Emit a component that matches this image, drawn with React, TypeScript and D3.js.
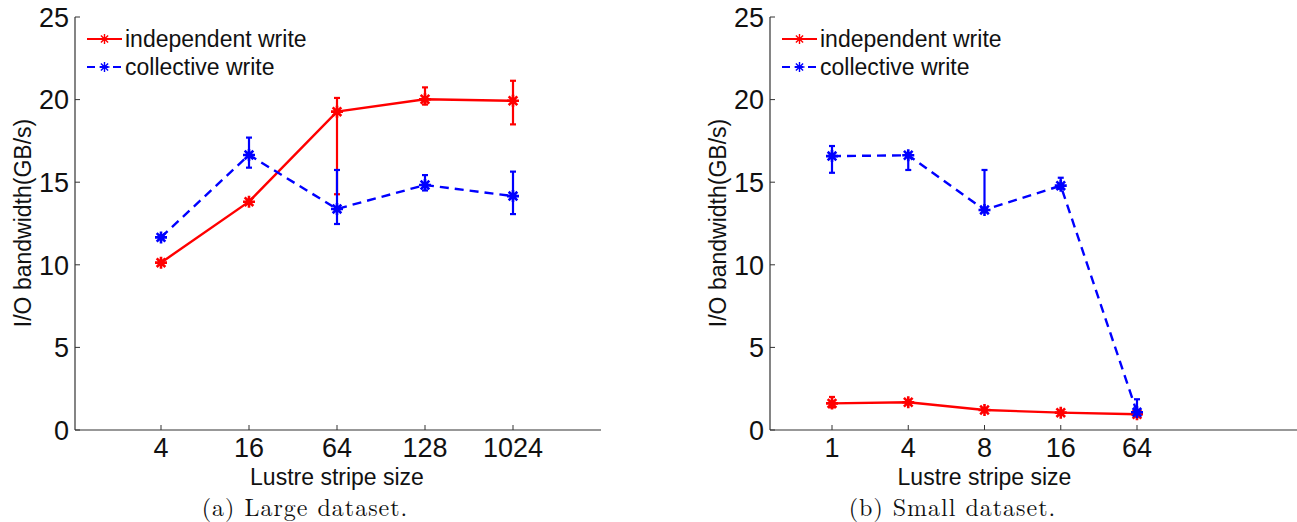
import React from 'react';
import * as d3 from 'd3';

const largeCats = ['4', '16', '64', '128', '1024'];
const smallCats = ['1', '4', '8', '16', '64'];
const yTicks = [0, 5, 10, 15, 20, 25];

// large dataset (a)
const largeIndep = [10.13, 13.82, 19.27, 20.02, 19.93];
const largeIndepHi = [10.2, 13.9, 20.1, 20.74, 21.14];
const largeIndepLo = [10.1, 13.75, 14.27, 19.7, 18.5];
const largeColl = [11.66, 16.65, 13.38, 14.83, 14.16];
const largeCollHi = [11.75, 17.7, 15.74, 15.43, 15.64];
const largeCollLo = [11.6, 15.88, 12.47, 14.5, 13.07];

// small dataset (b)
const smallIndep = [1.61, 1.68, 1.21, 1.05, 0.95];
const smallIndepHi = [2.0, 1.75, 1.3, 1.1, 1.0];
const smallIndepLo = [1.37, 1.6, 1.15, 1.0, 0.9];
const smallColl = [16.58, 16.63, 13.32, 14.79, 1.07];
const smallCollHi = [17.19, 16.7, 15.74, 15.27, 1.86];
const smallCollLo = [15.57, 15.74, 13.3, 14.6, 1.0];

const RED = '#ff0000';
const BLUE = '#0000ff';
const SANS = '"Liberation Sans", Arial, Helvetica, sans-serif';
const SERIF = '"Latin Modern Roman", "Liberation Serif", "Times New Roman", serif';

function star(r: number) {
  const d = r * 0.72;
  return `M${-r},0H${r}M0,${-r}V${r}M${-d},${-d}L${d},${d}M${-d},${d}L${d},${-d}`;
}

type Series = { vals: number[]; hi: number[]; lo: number[]; color: string; dash?: string };

function Panel(props: {
  cats: string[];
  series: Series[];
  axisLeft: number;
  axisRight: number;
  first: number;
  last: number;
  caption: string;
}) {
  const { cats, series, axisLeft, axisRight, first, last, caption } = props;
  const y = d3.scaleLinear().domain([0, 25]).range([430, 17]);
  const x = d3.scaleLinear().domain([0, cats.length - 1]).range([first, last]);
  const line = d3
    .line<number>()
    .x((d, i) => x(i))
    .y(d => y(d));
  const mid = x(2);

  return (
    <g>
      {/* axes */}
      <line x1={axisLeft} x2={axisLeft} y1={y(25)} y2={y(0)} stroke="#333" strokeWidth={1.2} />
      <line x1={axisLeft} x2={axisRight} y1={y(0)} y2={y(0)} stroke="#333" strokeWidth={1.2} />
      {yTicks.map(t => (
        <g key={t}>
          <line x1={axisLeft} x2={axisLeft + 5} y1={y(t)} y2={y(t)} stroke="#333" strokeWidth={1} />
          <text
            x={axisLeft - 6}
            y={y(t)}
            dy="0.36em"
            textAnchor="end"
            fontFamily={SANS}
            fontSize={27}
            fill="#111"
          >
            {t}
          </text>
        </g>
      ))}
      {cats.map((c, i) => (
        <g key={c}>
          <line x1={x(i)} x2={x(i)} y1={y(0)} y2={y(0) - 5} stroke="#333" strokeWidth={1} />
          <text x={x(i)} y={457} textAnchor="middle" fontFamily={SANS} fontSize={27} fill="#111">
            {c}
          </text>
        </g>
      ))}
      <text
        transform={`translate(${axisLeft - 44},${223}) rotate(-90)`}
        textAnchor="middle"
        fontFamily={SANS}
        fontSize={23}
        fill="#111"
      >
        I/O bandwidth(GB/s)
      </text>
      <text x={mid} y={485} textAnchor="middle" fontFamily={SANS} fontSize={23} fill="#111">
        Lustre stripe size
      </text>
      <text
        x={mid - 32}
        y={516}
        textAnchor="middle"
        fontFamily={SERIF}
        fontSize={24}
        letterSpacing={1}
        fill="#111"
      >
        {caption}
      </text>

      {/* series */}
      {series.map((s, k) => (
        <g key={k}>
          <path
            d={line(s.vals) || ''}
            fill="none"
            stroke={s.color}
            strokeWidth={2.4}
            strokeDasharray={s.dash}
          />
          {s.vals.map((v, i) => (
            <g key={i} stroke={s.color} strokeWidth={2.2} fill="none">
              <line x1={x(i)} x2={x(i)} y1={y(s.hi[i])} y2={y(s.lo[i])} />
              <line x1={x(i) - 3} x2={x(i) + 3} y1={y(s.hi[i])} y2={y(s.hi[i])} />
              <line x1={x(i) - 3} x2={x(i) + 3} y1={y(s.lo[i])} y2={y(s.lo[i])} />
              <path d={star(6)} transform={`translate(${x(i)},${y(v)})`} strokeWidth={2.6} />
            </g>
          ))}
        </g>
      ))}

      {/* legend */}
      {series.map((s, k) => {
        const ly = 39 + k * 28;
        const lx = axisLeft + 12;
        return (
          <g key={'lg' + k}>
            <line
              x1={lx}
              x2={lx + 35}
              y1={ly}
              y2={ly}
              stroke={s.color}
              strokeWidth={2.2}
              strokeDasharray={s.dash ? '8,5' : undefined}
            />
            <path
              d={star(5)}
              transform={`translate(${lx + 17.5},${ly})`}
              stroke={s.color}
              strokeWidth={1.4}
              fill="none"
            />
            <text x={lx + 38} y={ly} dy="0.35em" fontFamily={SANS} fontSize={23} fill="#111">
              {k === 0 ? 'independent write' : 'collective write'}
            </text>
          </g>
        );
      })}
    </g>
  );
}

export default function App() {
  const dash = '9,6';
  return (
    <div style={{ position: 'absolute', left: 0, top: 0 }}>
      <svg width={1297} height={522} style={{ display: 'block', background: '#fff' }}>
        <Panel
          cats={largeCats}
          axisLeft={75}
          axisRight={601}
          first={161}
          last={513}
          caption="(a) Large dataset."
          series={[
            { vals: largeIndep, hi: largeIndepHi, lo: largeIndepLo, color: RED },
            { vals: largeColl, hi: largeCollHi, lo: largeCollLo, color: BLUE, dash },
          ]}
        />
        <Panel
          cats={smallCats}
          axisLeft={770}
          axisRight={1297}
          first={832}
          last={1137}
          caption="(b) Small dataset."
          series={[
            { vals: smallIndep, hi: smallIndepHi, lo: smallIndepLo, color: RED },
            { vals: smallColl, hi: smallCollHi, lo: smallCollLo, color: BLUE, dash },
          ]}
        />
      </svg>
    </div>
  );
}
